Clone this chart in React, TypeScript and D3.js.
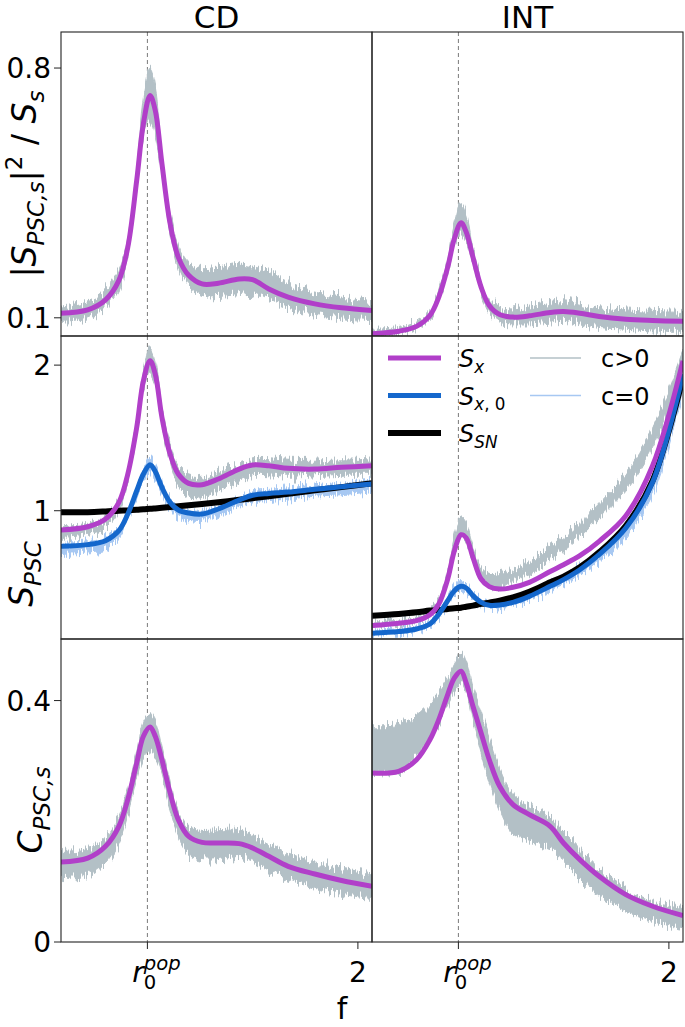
import React from 'react';
import * as d3 from 'd3';

// ---------- data ----------
const fGrid = [0, 0.18, 0.3, 0.39, 0.45, 0.51, 0.555, 0.6, 0.635, 0.68, 0.735, 0.79, 0.86, 0.95, 1.06, 1.2, 1.29, 1.4, 1.53, 1.71, 1.89, 2.095];
const r0pop = 0.582;
const colTitles = ['CD', 'INT'];
const xTickValues = [r0pop, 2];

// row 1: |S_PSC,s|^2 / S_s
const cdCohSx = [0.113, 0.1225, 0.1505, 0.205, 0.298, 0.485, 0.644, 0.723, 0.681, 0.532, 0.364, 0.27, 0.219, 0.195, 0.197, 0.209, 0.207, 0.181, 0.158, 0.139, 0.128, 0.1205];
const cdCohHi = [0.13, 0.145, 0.175, 0.235, 0.325, 0.52, 0.72, 0.8, 0.75, 0.555, 0.39, 0.3, 0.25, 0.235, 0.24, 0.25, 0.245, 0.225, 0.195, 0.172, 0.158, 0.145];
const cdCohLo = [0.09, 0.1, 0.13, 0.18, 0.275, 0.45, 0.61, 0.65, 0.61, 0.5, 0.34, 0.24, 0.185, 0.16, 0.16, 0.165, 0.168, 0.148, 0.127, 0.11, 0.1, 0.095];
const intCohSx = [0.055, 0.0625, 0.076, 0.1065, 0.158, 0.242, 0.322, 0.3665, 0.34, 0.27, 0.186, 0.1345, 0.109, 0.102, 0.1055, 0.115, 0.1177, 0.113, 0.1037, 0.096, 0.0925, 0.09];
const intCohHi = [0.068, 0.073, 0.088, 0.118, 0.175, 0.265, 0.36, 0.42, 0.39, 0.295, 0.205, 0.15, 0.13, 0.125, 0.133, 0.143, 0.148, 0.138, 0.128, 0.122, 0.118, 0.115];
const intCohLo = [0.052, 0.057, 0.07, 0.097, 0.148, 0.228, 0.305, 0.335, 0.315, 0.25, 0.172, 0.118, 0.088, 0.083, 0.083, 0.088, 0.093, 0.083, 0.073, 0.068, 0.063, 0.062];
const row1Ticks = [0.1, 0.8];

// row 2: S_PSC
const cdSx = [0.8675, 0.89, 0.943, 1.0575, 1.252, 1.572, 1.892, 2.03, 1.938, 1.641, 1.389, 1.252, 1.188, 1.179, 1.218, 1.286, 1.314, 1.309, 1.291, 1.286, 1.298, 1.309];
const cdSx0 = [0.7555, 0.767, 0.794, 0.863, 0.977, 1.137, 1.252, 1.316, 1.27, 1.16, 1.0575, 1.005, 0.984, 0.977, 1.012, 1.073, 1.106, 1.119, 1.128, 1.147, 1.165, 1.183];
const cdSsn = [0.989, 0.99, 0.995, 1.0, 1.002, 1.006, 1.01, 1.013, 1.016, 1.02, 1.025, 1.03, 1.037, 1.046, 1.058, 1.075, 1.086, 1.1, 1.117, 1.14, 1.162, 1.188];
const cdSpecHi = [0.89, 0.9, 0.95, 1.07, 1.28, 1.61, 1.95, 2.12, 2.03, 1.71, 1.45, 1.3, 1.24, 1.23, 1.27, 1.32, 1.35, 1.35, 1.34, 1.34, 1.35, 1.34];
const cdSpecLo = [0.81, 0.83, 0.88, 1.0, 1.21, 1.51, 1.83, 1.94, 1.87, 1.59, 1.33, 1.17, 1.1, 1.09, 1.14, 1.21, 1.24, 1.24, 1.23, 1.24, 1.25, 1.25];
const cdSpec0Hi = [0.77, 0.78, 0.81, 0.88, 0.99, 1.16, 1.29, 1.36, 1.31, 1.19, 1.08, 1.02, 1.0, 0.99, 1.03, 1.09, 1.13, 1.14, 1.15, 1.17, 1.19, 1.2];
const cdSpec0Lo = [0.7, 0.71, 0.73, 0.81, 0.94, 1.09, 1.21, 1.26, 1.21, 1.11, 1.01, 0.96, 0.93, 0.92, 0.96, 1.03, 1.06, 1.07, 1.08, 1.1, 1.11, 1.13];
const intSx = [0.211, 0.227, 0.245, 0.286, 0.36, 0.531, 0.725, 0.835, 0.813, 0.68, 0.531, 0.479, 0.462, 0.474, 0.508, 0.583, 0.629, 0.691, 0.79, 0.966, 1.309, 2.03];
const intSx0 = [0.158, 0.17, 0.188, 0.222, 0.291, 0.382, 0.451, 0.481, 0.469, 0.417, 0.371, 0.351, 0.353, 0.371, 0.412, 0.481, 0.527, 0.595, 0.698, 0.881, 1.195, 1.938];
const intSsn = [0.279, 0.291, 0.302, 0.314, 0.318, 0.325, 0.33, 0.334, 0.341, 0.348, 0.36, 0.369, 0.382, 0.405, 0.444, 0.508, 0.547, 0.611, 0.714, 0.897, 1.206, 1.915];
const intSpecHi = [0.235, 0.25, 0.27, 0.315, 0.4, 0.59, 0.82, 0.95, 0.91, 0.76, 0.61, 0.57, 0.575, 0.6, 0.65, 0.75, 0.82, 0.91, 1.05, 1.25, 1.56, 2.11];
const intSpecLo = [0.205, 0.22, 0.24, 0.28, 0.355, 0.53, 0.72, 0.81, 0.78, 0.67, 0.54, 0.47, 0.47, 0.52, 0.56, 0.66, 0.73, 0.82, 0.95, 1.14, 1.43, 1.96];
const intSpec0Hi = [0.172, 0.183, 0.202, 0.237, 0.305, 0.405, 0.49, 0.52, 0.495, 0.435, 0.386, 0.366, 0.367, 0.386, 0.426, 0.496, 0.545, 0.615, 0.715, 0.895, 1.215, 1.955];
const intSpec0Lo = [0.143, 0.153, 0.172, 0.204, 0.27, 0.355, 0.425, 0.445, 0.435, 0.395, 0.35, 0.33, 0.334, 0.35, 0.39, 0.455, 0.495, 0.555, 0.655, 0.825, 1.11, 1.82];
const row2Ticks = [1, 2];

// row 3: C_PSC,s
const cdCrossSx = [0.1326, 0.139, 0.1586, 0.1917, 0.236, 0.2966, 0.3408, 0.3563, 0.3408, 0.302, 0.247, 0.2028, 0.175, 0.165, 0.164, 0.163, 0.1558, 0.142, 0.1254, 0.1127, 0.102, 0.0923];
const cdCrossHi = [0.15, 0.155, 0.172, 0.207, 0.252, 0.315, 0.365, 0.38, 0.37, 0.325, 0.265, 0.215, 0.19, 0.185, 0.186, 0.186, 0.176, 0.161, 0.146, 0.131, 0.121, 0.111];
const cdCrossLo = [0.105, 0.11, 0.13, 0.165, 0.21, 0.27, 0.305, 0.315, 0.305, 0.275, 0.22, 0.175, 0.145, 0.135, 0.135, 0.14, 0.134, 0.119, 0.104, 0.089, 0.079, 0.072];
const intCrossSx = [0.28, 0.2828, 0.302, 0.335, 0.3685, 0.41, 0.4375, 0.4485, 0.429, 0.3906, 0.3463, 0.302, 0.258, 0.2277, 0.211, 0.1917, 0.164, 0.1365, 0.1089, 0.0785, 0.0592, 0.0437];
const intCrossHi = [0.36, 0.362, 0.375, 0.395, 0.414, 0.436, 0.46, 0.48, 0.465, 0.42, 0.38, 0.337, 0.287, 0.244, 0.227, 0.205, 0.183, 0.155, 0.122, 0.089, 0.068, 0.057];
const intCrossLo = [0.278, 0.28, 0.31, 0.337, 0.36, 0.393, 0.415, 0.428, 0.413, 0.366, 0.314, 0.267, 0.219, 0.179, 0.167, 0.156, 0.134, 0.106, 0.079, 0.051, 0.034, 0.022];
const row3Ticks = [0, 0.4];

const legendLines = ['Sx', 'Sx0', 'Ssn'];
const legendNoise = ['c>0', 'c=0'];

// ---------- styles ----------
const C_PURPLE = '#b13fc9';
const C_BLUE = '#1467cc';
const C_BLACK = '#000000';
const C_GRAY = '#b3c0c6';
const C_LBLUE = '#a7c8f2';
const FONT = 'DejaVu Sans';

type Part = { t: string; it?: boolean; sub?: boolean; sup?: boolean; dx?: number };

function MathText({ x, y, parts, fs, anchor = 'middle', rotate = 0 }: { x: number; y: number; parts: Part[]; fs: number; anchor?: string; rotate?: number }) {
  let cur = 0;
  const small = fs * 0.7;
  return (
    <text
      transform={`translate(${x},${y}) rotate(${rotate})`}
      textAnchor={anchor as any}
      fontFamily={FONT}
      fontSize={fs}
      fill="#000"
    >
      {parts.map((p, i) => {
        const target = p.sub ? fs * 0.24 : p.sup ? -fs * 0.42 : 0;
        const dy = target - cur;
        cur = target;
        return (
          <tspan
            key={i}
            dy={dy}
            dx={p.dx || 0}
            fontSize={p.sub || p.sup ? small : fs}
            fontStyle={p.it ? 'italic' : 'normal'}
          >
            {p.t}
          </tspan>
        );
      })}
    </text>
  );
}

const cols = [
  { x0: 61, x1: 372 },
  { x0: 372, x1: 683 },
];
const rows = [
  { y0: 32, y1: 336, domain: [0.049, 0.901], ticks: row1Ticks },
  { y0: 336, y1: 639, domain: [0.119, 2.2], ticks: row2Ticks },
  { y0: 639, y1: 942, domain: [0, 0.502], ticks: row3Ticks },
];

type Band = { hi: number[]; lo: number[]; color: string };
type Curve = { v: number[]; color: string; w: number };

const panels: { r: number; c: number; bands: Band[]; curves: Curve[] }[] = [
  { r: 0, c: 0, bands: [{ hi: cdCohHi, lo: cdCohLo, color: C_GRAY }], curves: [{ v: cdCohSx, color: C_PURPLE, w: 5 }] },
  { r: 0, c: 1, bands: [{ hi: intCohHi, lo: intCohLo, color: C_GRAY }], curves: [{ v: intCohSx, color: C_PURPLE, w: 5 }] },
  {
    r: 1, c: 0,
    bands: [{ hi: cdSpecHi, lo: cdSpecLo, color: C_GRAY }, { hi: cdSpec0Hi, lo: cdSpec0Lo, color: C_LBLUE }],
    curves: [{ v: cdSsn, color: C_BLACK, w: 6 }, { v: cdSx0, color: C_BLUE, w: 5 }, { v: cdSx, color: C_PURPLE, w: 5 }],
  },
  {
    r: 1, c: 1,
    bands: [{ hi: intSpecHi, lo: intSpecLo, color: C_GRAY }, { hi: intSpec0Hi, lo: intSpec0Lo, color: C_LBLUE }],
    curves: [{ v: intSsn, color: C_BLACK, w: 6 }, { v: intSx0, color: C_BLUE, w: 5 }, { v: intSx, color: C_PURPLE, w: 5 }],
  },
  { r: 2, c: 0, bands: [{ hi: cdCrossHi, lo: cdCrossLo, color: C_GRAY }], curves: [{ v: cdCrossSx, color: C_PURPLE, w: 5 }] },
  { r: 2, c: 1, bands: [{ hi: intCrossHi, lo: intCrossLo, color: C_GRAY }], curves: [{ v: intCrossSx, color: C_PURPLE, w: 5 }] },
];

export default function App() {
  const TICK_FS = 28;
  const xScales = cols.map((c) => d3.scaleLinear().domain([0, 2.095]).range([c.x0, c.x1]));
  const yScales = rows.map((r) => d3.scaleLinear().domain(r.domain).range([r.y1, r.y0]));

  const legendLabel = (k: string): Part[] =>
    k === 'Sx'
      ? [{ t: 'S', it: true }, { t: 'x', it: true, sub: true }]
      : k === 'Sx0'
      ? [{ t: 'S', it: true }, { t: 'x', it: true, sub: true }, { t: ', 0', sub: true }]
      : [{ t: 'S', it: true }, { t: 'SN', it: true, sub: true }];
  const legendColor: Record<string, string> = { Sx: C_PURPLE, Sx0: C_BLUE, Ssn: C_BLACK };
  const noiseColor: Record<string, string> = { 'c>0': C_GRAY, 'c=0': C_LBLUE };

  return (
    <svg width={685} height={1027} style={{ position: 'absolute', left: 0, top: 0, background: '#fff' }}>
      <defs>
        {panels.map((p) => (
          <clipPath id={`clip${p.r}${p.c}`} key={`cp${p.r}${p.c}`}>
            <rect x={cols[p.c].x0} y={rows[p.r].y0} width={cols[p.c].x1 - cols[p.c].x0} height={rows[p.r].y1 - rows[p.r].y0} />
          </clipPath>
        ))}
        {/* jagged-edge rendering effect for the noisy traces (vertical-only displacement) */}
        <filter id="jag" x="-2%" y="-30%" width="104%" height="160%" colorInterpolationFilters="sRGB">
          <feTurbulence type="fractalNoise" baseFrequency="0.55 0.012" numOctaves={2} seed={7} result="t" />
          <feColorMatrix in="t" type="matrix" values="0 0 0 0 0.5  1 0 0 0 0  0 0 0 0 0  0 0 0 0 1" result="m" />
          <feDisplacementMap in="SourceGraphic" in2="m" scale={22} xChannelSelector="R" yChannelSelector="G" />
        </filter>
      </defs>
      {panels.map((p) => {
        const xs = xScales[p.c];
        const ys = yScales[p.r];
        const area = d3
          .area<number>()
          .x((_, i) => xs(fGrid[i]))
          .curve(d3.curveCatmullRom.alpha(0.5));
        const line = d3
          .line<number>()
          .x((_, i) => xs(fGrid[i]))
          .y((d) => ys(d))
          .curve(d3.curveCatmullRom.alpha(0.5));
        return (
          <g key={`p${p.r}${p.c}`} clipPath={`url(#clip${p.r}${p.c})`}>
            <line x1={xs(r0pop)} x2={xs(r0pop)} y1={rows[p.r].y0} y2={rows[p.r].y1} stroke="#7a7a7a" strokeWidth={1} strokeDasharray="4,3" />
            {p.bands.map((b, i) => {
              const a = area.y0((_, j) => ys(b.lo[j])).y1((d) => ys(d));
              return <path key={i} d={a(b.hi) || ''} fill={b.color} stroke={b.color} strokeWidth={1} filter="url(#jag)" />;
            })}
            {p.curves.map((c, i) => (
              <path key={i} d={line(c.v) || ''} fill="none" stroke={c.color} strokeWidth={c.w} strokeLinejoin="round" strokeLinecap="butt" />
            ))}
          </g>
        );
      })}
      {/* frames */}
      {panels.map((p) => (
        <rect
          key={`f${p.r}${p.c}`}
          x={cols[p.c].x0}
          y={rows[p.r].y0}
          width={cols[p.c].x1 - cols[p.c].x0}
          height={rows[p.r].y1 - rows[p.r].y0}
          fill="none"
          stroke="#222"
          strokeWidth={1.1}
        />
      ))}
      {/* y ticks */}
      {rows.map((r, ri) =>
        r.ticks.map((t) => (
          <g key={`yt${ri}${t}`}>
            <line x1={54} x2={61} y1={yScales[ri](t)} y2={yScales[ri](t)} stroke="#222" strokeWidth={1} />
            <text x={51} y={yScales[ri](t)} dy="0.36em" textAnchor="end" fontFamily={FONT} fontSize={TICK_FS}>
              {d3.format('')(t)}
            </text>
          </g>
        ))
      )}
      {/* x ticks */}
      {cols.map((c, ci) =>
        xTickValues.map((t, ti) => (
          <g key={`xt${ci}${ti}`}>
            <line x1={xScales[ci](t)} x2={xScales[ci](t)} y1={942} y2={949} stroke="#222" strokeWidth={1} />
            {ti === 1 ? (
              <text x={xScales[ci](t)} y={982} textAnchor="middle" fontFamily={FONT} fontSize={TICK_FS}>
                2
              </text>
            ) : (
              <MathText
                x={xScales[ci](t) + 9}
                y={982}
                fs={TICK_FS}
                parts={[{ t: 'r', it: true }, { t: '0', sub: true }, { t: 'pop', it: true, sup: true, dx: -TICK_FS * 0.7 * 0.636 }]}
              />
            )}
          </g>
        ))
      )}
      {/* column titles */}
      {cols.map((c, ci) => (
        <text key={`ct${ci}`} x={(c.x0 + c.x1) / 2} y={28} textAnchor="middle" fontFamily={FONT} fontSize={31}>
          {colTitles[ci]}
        </text>
      ))}
      {/* x label */}
      <text x={342} y={1019} textAnchor="middle" fontFamily={FONT} fontSize={30}>
        f
      </text>
      {/* y labels */}
      <MathText
        x={36}
        y={184}
        rotate={-90}
        fs={33}
        parts={[
          { t: '|' },
          { t: 'S', it: true },
          { t: 'PSC,s', it: true, sub: true },
          { t: '|' },
          { t: '2', sup: true },
          { t: ' / ' },
          { t: 'S', it: true },
          { t: 's', it: true, sub: true },
        ]}
      />
      <MathText x={33} y={574} rotate={-90} fs={33} parts={[{ t: 'S', it: true }, { t: 'PSC', it: true, sub: true }]} />
      <MathText x={42} y={810} rotate={-90} fs={33} parts={[{ t: 'C', it: true }, { t: 'PSC,s', it: true, sub: true }]} />
      {/* legend */}
      {legendLines.map((k, i) => {
        const y = 358 + i * 37.5;
        return (
          <g key={`lg${k}`}>
            <line x1={388} x2={441} y1={y} y2={y} stroke={legendColor[k]} strokeWidth={k === 'Ssn' ? 6 : 5} />
            <MathText x={459} y={y + 9} fs={24} anchor="start" parts={legendLabel(k)} />
          </g>
        );
      })}
      {legendNoise.map((k, i) => {
        const y = 358 + i * 37.5;
        return (
          <g key={`ln${k}`}>
            <line x1={530} x2={581} y1={y} y2={y} stroke={noiseColor[k]} strokeWidth={1.5} />
            <text x={601} y={y + 9} fontFamily={FONT} fontSize={24}>
              {k}
            </text>
          </g>
        );
      })}
    </svg>
  );
}
